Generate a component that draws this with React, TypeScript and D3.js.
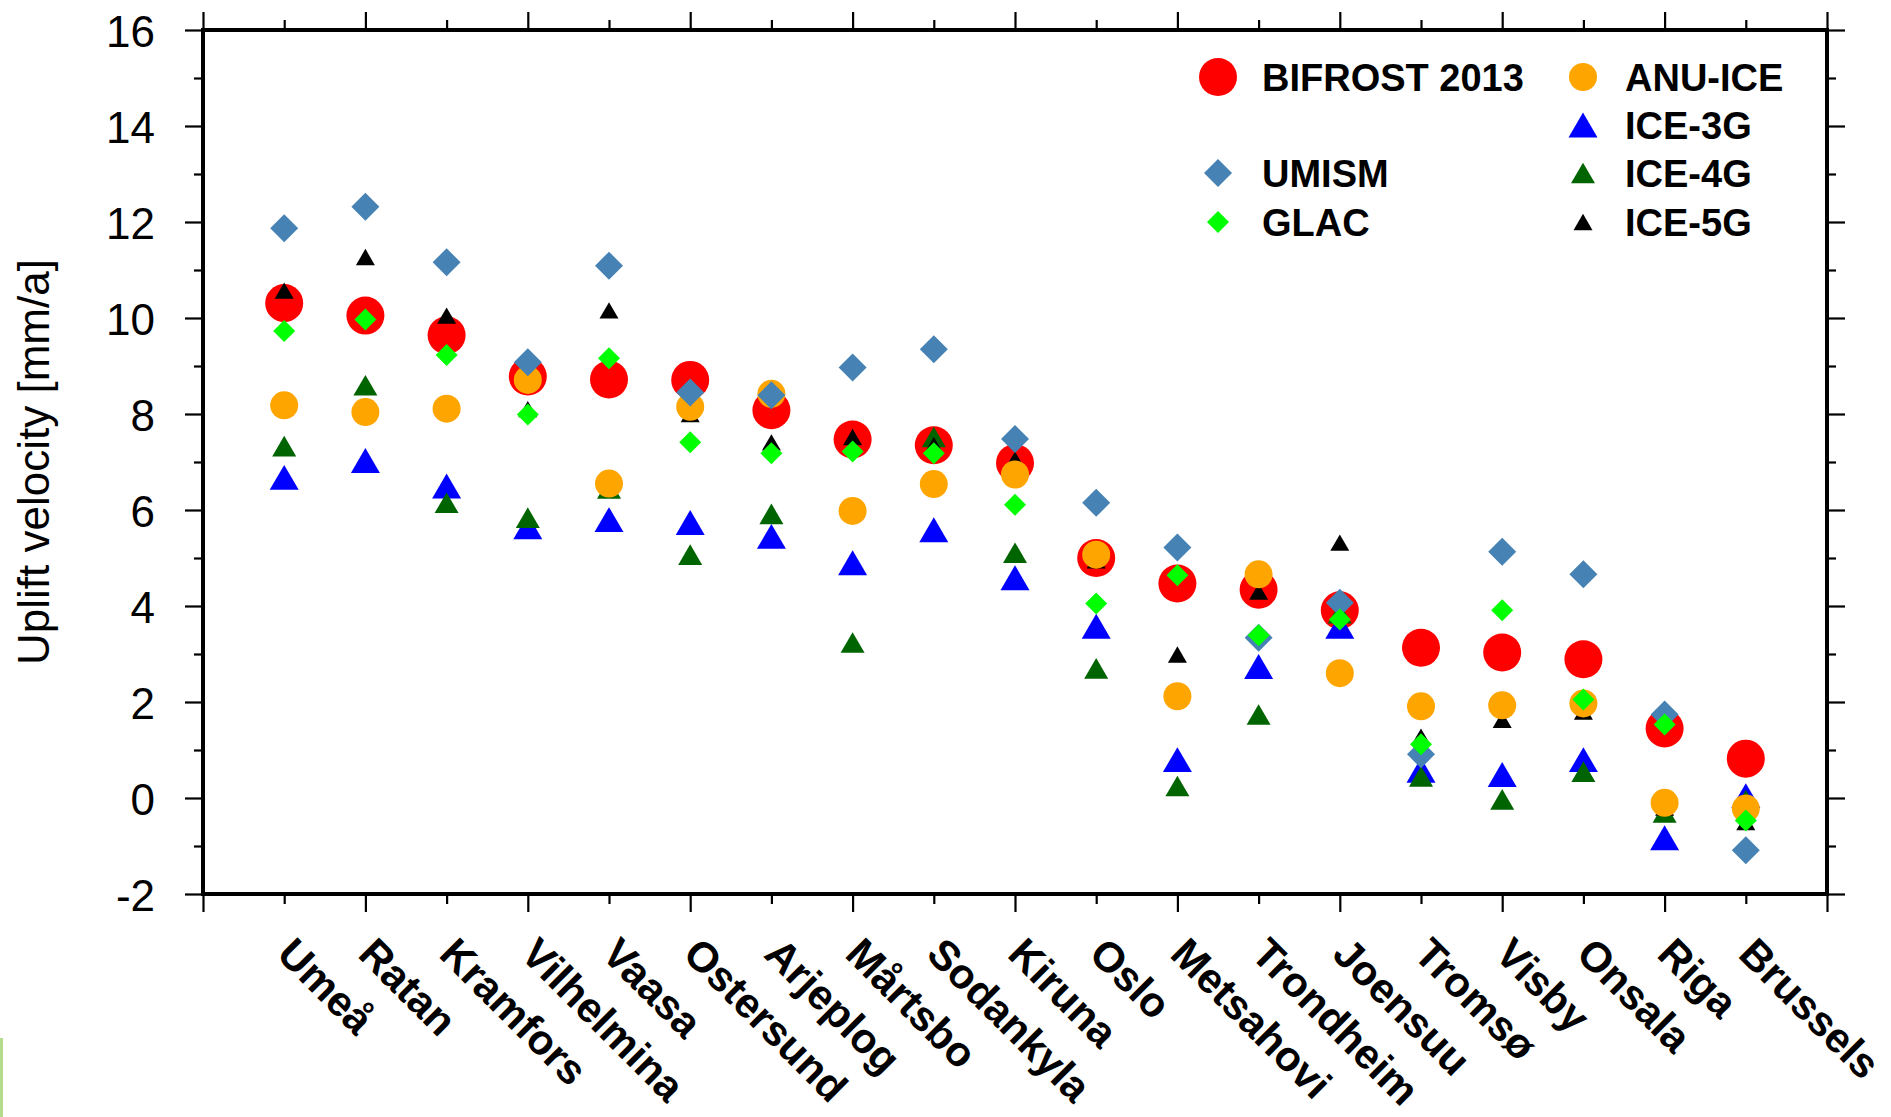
import React, { useRef, useEffect } from "react";
import * as d3 from "d3";

const stations = [
  "Umeå", "Ratan", "Kramfors", "Vilhelmina", "Vaasa", "Ostersund", "Arjeplog",
  "Mårtsbo", "Sodankyla", "Kiruna", "Oslo", "Metsahovi", "Trondheim", "Joensuu",
  "Tromsø", "Visby", "Onsala", "Riga", "Brussels",
];

const bifrost = [10.31, 10.05, 9.64, 8.78, 8.72, 8.71, 8.08, 7.47, 7.35, 6.98, 5.0, 4.47, 4.34, 3.91, 3.13, 3.03, 2.89, 1.45, 0.82];
const anuIce = [8.18, 8.04, 8.11, 8.71, 6.55, 8.15, 8.42, 5.98, 6.54, 6.74, 5.07, 2.12, 4.66, 2.6, 1.91, 1.93, 1.97, -0.1, -0.22];
const umism = [11.87, 12.32, 11.16, 9.08, 11.09, 8.45, 8.39, 8.97, 9.35, 7.48, 6.15, 5.22, 3.34, 4.07, 0.91, 5.13, 4.66, 1.74, -1.09];
const glac = [9.73, 9.97, 9.23, 7.99, 9.16, 7.41, 7.18, 7.22, 7.18, 6.11, 4.05, 4.64, 3.39, 3.72, 1.12, 3.91, 2.05, 1.53, -0.47];
const ice3g = [6.68, 7.03, 6.5, 5.65, 5.8, 5.74, 5.45, 4.9, 5.59, 4.59, 3.58, 0.8, 2.74, 3.58, 0.58, 0.49, 0.8, -0.83, 0.05];
const ice4g = [7.33, 8.6, 6.15, 5.84, 6.45, 5.07, 5.92, 3.24, 7.52, 5.11, 2.7, 0.25, 1.74, 3.85, 0.45, -0.03, 0.55, -0.3, -0.05];
const ice5g = [10.57, 11.27, 10.05, 8.1, 10.16, 8.0, 7.41, 7.52, 7.35, 7.05, 4.95, 2.99, 4.3, 5.32, 1.28, 1.63, 1.8, -0.2, -0.5];

const yTicks = [-2, 0, 2, 4, 6, 8, 10, 12, 14, 16];

type Shape = "circle" | "diamond" | "triangle";
interface Series {
  name: string;
  values: number[];
  shape: Shape;
  size: number; // radius / half-diagonal / half-width
  color: string;
}

// draw order matters: later series sit on top
const series: Series[] = [
  { name: "BIFROST 2013", values: bifrost, shape: "circle", size: 19, color: "#ff0000" },
  { name: "ICE-3G", values: ice3g, shape: "triangle", size: 14.5, color: "#0000ff" },
  { name: "ICE-4G", values: ice4g, shape: "triangle", size: 12, color: "#006400" },
  { name: "ICE-5G", values: ice5g, shape: "triangle", size: 9.5, color: "#000000" },
  { name: "ANU-ICE", values: anuIce, shape: "circle", size: 14, color: "#ffa500" },
  { name: "UMISM", values: umism, shape: "diamond", size: 14, color: "#4682b4" },
  { name: "GLAC", values: glac, shape: "diamond", size: 11, color: "#00ff00" },
];

const legendLeft = ["BIFROST 2013", null, "UMISM", "GLAC"];
const legendRight = ["ANU-ICE", "ICE-3G", "ICE-4G", "ICE-5G"];

const font = "'Liberation Sans', Arial, Helvetica, sans-serif";

function symbolPath(shape: Shape, s: number) {
  if (shape === "circle") {
    return `M${-s},0A${s},${s} 0 1,0 ${s},0A${s},${s} 0 1,0 ${-s},0Z`;
  }
  if (shape === "diamond") {
    return `M0,${-s}L${s},0L0,${s}L${-s},0Z`;
  }
  const h = s * 1.72;
  return `M0,${-h / 2}L${s},${h / 2}L${-s},${h / 2}Z`;
}

const Chart = () => {
  const svgRef = useRef<SVGSVGElement>(null);

  useEffect(() => {
    const svg = d3.select(svgRef.current);
    svg.selectAll("*").remove();

    const width = 1891;
    const height = 1117;
    const margin = { top: 30, right: 64, bottom: 223, left: 203 };

    const x = d3.scaleLinear().domain([0, 20]).range([margin.left, width - margin.right]);
    const y = d3.scaleLinear().domain([-2, 16]).range([height - margin.bottom, margin.top]);

    const major = d3.range(0, 21, 2);
    const minor = d3.range(1, 20, 2);
    const yMinor = d3.range(-1, 16, 2);

    const tickStyle = (g: any) => {
      g.select(".domain").remove();
      g.selectAll(".tick line").attr("stroke", "#000").attr("stroke-width", 2.2);
    };

    // bottom + top ticks
    const bottom = y(-2);
    const top = y(16);
    svg.append("g").attr("transform", `translate(0,${bottom})`)
      .call(d3.axisBottom(x).tickValues(major).tickSize(18).tickFormat(() => "")).call(tickStyle);
    svg.append("g").attr("transform", `translate(0,${bottom})`)
      .call(d3.axisBottom(x).tickValues(minor).tickSize(10).tickFormat(() => "")).call(tickStyle);
    svg.append("g").attr("transform", `translate(0,${top})`)
      .call(d3.axisTop(x).tickValues(major).tickSize(18).tickFormat(() => "")).call(tickStyle);
    svg.append("g").attr("transform", `translate(0,${top})`)
      .call(d3.axisTop(x).tickValues(minor).tickSize(10).tickFormat(() => "")).call(tickStyle);

    // left + right ticks
    const left = x(0);
    const right = x(20);
    const yAxis = svg.append("g").attr("transform", `translate(${left},0)`)
      .call(d3.axisLeft(y).tickValues(yTicks).tickSize(18).tickPadding(30).tickFormat((d: any) => String(d)))
      .call(tickStyle);
    yAxis.selectAll(".tick text")
      .attr("font-family", font)
      .attr("font-size", 44)
      .attr("fill", "#000")
      .attr("dy", "0.38em");
    svg.append("g").attr("transform", `translate(${left},0)`)
      .call(d3.axisLeft(y).tickValues(yMinor).tickSize(9).tickFormat(() => "")).call(tickStyle);
    svg.append("g").attr("transform", `translate(${right},0)`)
      .call(d3.axisRight(y).tickValues(yTicks).tickSize(18).tickFormat(() => "")).call(tickStyle);
    svg.append("g").attr("transform", `translate(${right},0)`)
      .call(d3.axisRight(y).tickValues(yMinor).tickSize(9).tickFormat(() => "")).call(tickStyle);

    // frame
    svg.append("rect")
      .attr("x", left)
      .attr("y", top)
      .attr("width", right - left)
      .attr("height", bottom - top)
      .attr("fill", "none")
      .attr("stroke", "#000")
      .attr("stroke-width", 4);

    // y title
    svg.append("text")
      .attr("transform", `translate(49,${(top + bottom) / 2}) rotate(-90)`)
      .attr("text-anchor", "middle")
      .attr("font-family", font)
      .attr("font-size", 44)
      .attr("fill", "#000")
      .text("Uplift velocity [mm/a]");

    // station labels
    svg.append("g")
      .selectAll("text")
      .data(stations)
      .join("text")
      .attr("transform", (d, i) => `translate(${x(i + 1) - 9},${bottom + 62}) rotate(45)`)
      .attr("font-family", font)
      .attr("font-weight", "bold")
      .attr("font-size", 42)
      .attr("fill", "#000")
      .text((d) => d);

    // markers
    series.forEach((s) => {
      svg.append("g")
        .selectAll("path")
        .data(s.values)
        .join("path")
        .attr("transform", (d, i) => `translate(${x(i + 1)},${y(d)})`)
        .attr("d", symbolPath(s.shape, s.size))
        .attr("fill", s.color);
    });

    // legend
    const byName = new Map(series.map((s) => [s.name, s]));
    const legendRow = (name: string, mx: number, tx: number, cy: number) => {
      const s = byName.get(name)!;
      svg.append("path")
        .attr("transform", `translate(${mx},${cy})`)
        .attr("d", symbolPath(s.shape, s.size))
        .attr("fill", s.color);
      svg.append("text")
        .attr("x", tx)
        .attr("y", cy)
        .attr("dy", "0.37em")
        .attr("font-family", font)
        .attr("font-weight", "bold")
        .attr("font-size", 38)
        .attr("fill", "#000")
        .text(name);
    };
    const rowY = [77, 125, 173, 222];
    legendLeft.forEach((n, i) => n && legendRow(n, 1218, 1262, rowY[i]));
    legendRight.forEach((n, i) => legendRow(n, 1583, 1625, rowY[i]));

    // scanner edge left in the source figure
    svg.append("rect").attr("x", 0).attr("y", 1038).attr("width", 3).attr("height", 79).attr("fill", "#b4dc8c");
  }, []);

  return <svg ref={svgRef} width={1891} height={1117} style={{ display: "block" }}></svg>;
};

export default function App() {
  return (
    <div style={{ position: "absolute", left: 0, top: 0, background: "#fff" }}>
      <Chart />
    </div>
  );
}
